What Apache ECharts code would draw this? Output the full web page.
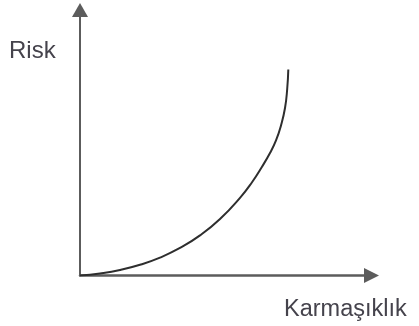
<!DOCTYPE html>
<html>
<head>
<meta charset="utf-8">
<script src="https://cdn.jsdelivr.net/npm/echarts@6/dist/echarts.min.js"></script>
<style>
  html, body { margin: 0; padding: 0; background: #fff; }
  #chart { width: 419px; height: 326px; }
</style>
</head>
<body>
<div id="chart"></div>
<script>
// Risk rising with complexity: a curve that stays flat, then climbs steeply.
const xTitle = 'Karmaşıklık';
const yTitle = 'Risk';
const complexity = [0, 0.686, 1.372, 2.058, 2.744, 3.430, 4.117, 4.803, 5.489, 5.901, 6.244, 6.518, 6.724, 6.895, 7.033, 7.108, 7.146];
const risk       = [0, 0.079, 0.207, 0.403, 0.674, 1.036, 1.510, 2.128, 2.927, 3.514, 4.098, 4.614, 5.088, 5.653, 6.309, 7.024, 7.759];

const points = complexity.map((x, i) => [x, risk[i]]);

const chart = echarts.init(document.getElementById('chart'), null, { renderer: 'canvas' });

const axisCommon = {
  type: 'value',
  min: 0,
  max: 10,
  axisTick: { show: false },
  axisLabel: { show: false },
  splitLine: { show: false }
};

chart.setOption({
  animation: false,
  backgroundColor: '#ffffff',
  grid: { left: 80, right: 47.5, top: 10, bottom: 50.5 },
  xAxis: Object.assign({}, axisCommon, {
    axisLine: {
      show: true,
      symbol: ['none', 'triangle'],
      symbolSize: [15, 15],
      lineStyle: { color: '#5c5c5c', width: 2.5 }
    }
  }),
  yAxis: Object.assign({}, axisCommon, {
    axisLine: {
      show: true,
      symbol: ['none', 'triangle'],
      symbolSize: [16, 14],
      lineStyle: { color: '#5c5c5c', width: 2 }
    }
  }),
  series: [{
    type: 'line',
    data: points,
    smooth: 0.5,
    showSymbol: false,
    lineStyle: { color: '#2e2e2e', width: 2 }
  }],
  graphic: [
    {
      type: 'text',
      left: 9,
      top: 39,
      style: {
        text: yTitle,
        font: '24px "Liberation Sans", Arial, sans-serif',
        fill: '#45434c'
      }
    },
    {
      type: 'text',
      left: 284,
      top: 298,
      style: {
        text: xTitle,
        font: '23.5px "Liberation Sans", Arial, sans-serif',
        fill: '#45434c'
      }
    }
  ]
});
</script>
</body>
</html>
